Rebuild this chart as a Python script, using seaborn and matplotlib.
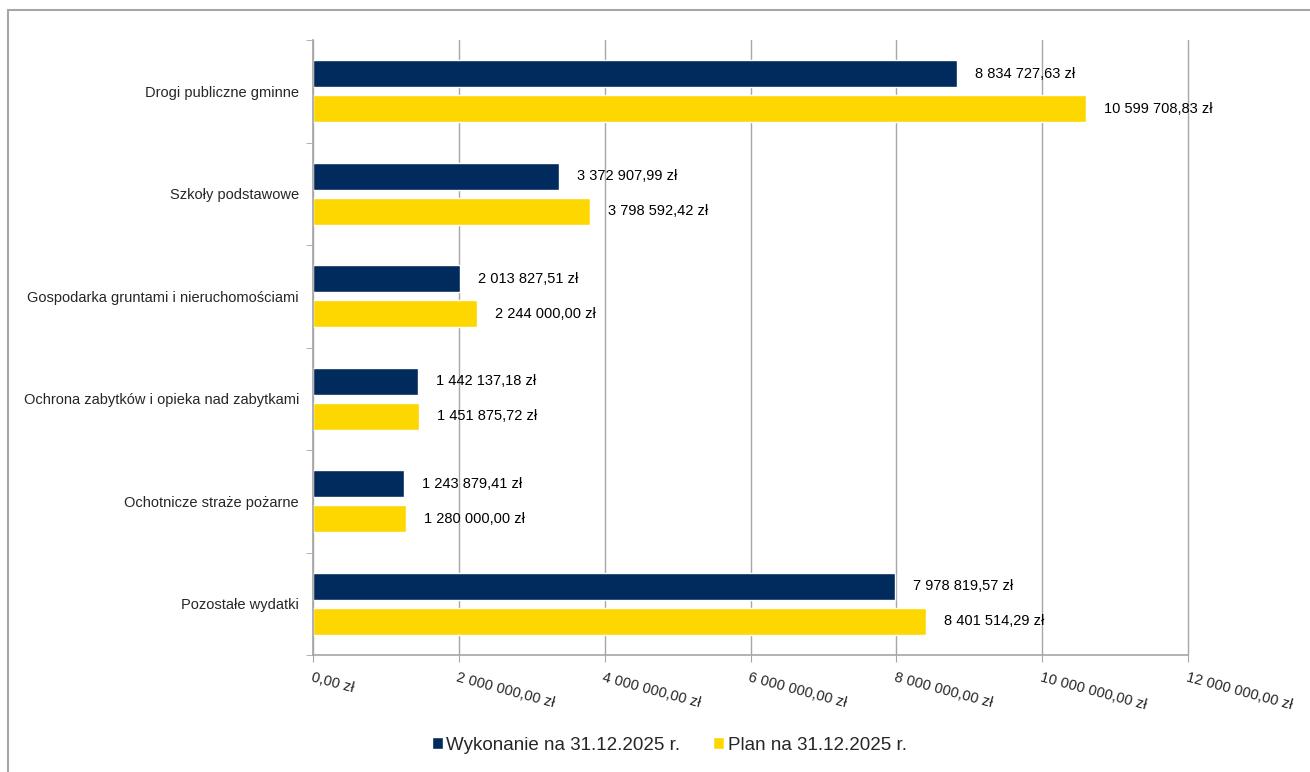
import numpy as np
import pandas as pd
import seaborn as sns
import matplotlib.pyplot as plt
from matplotlib.patches import Rectangle, Patch

kategorie = ["Drogi publiczne gminne", "Szkoły podstawowe",
             "Gospodarka gruntami i nieruchomościami",
             "Ochrona zabytków i opieka nad zabytkami",
             "Ochotnicze straże pożarne", "Pozostałe wydatki"]
wykonanie = [8834727.63, 3372907.99, 2013827.51, 1442137.18, 1243879.41, 7978819.57]
plan = [10599708.83, 3798592.42, 2244000.00, 1451875.72, 1280000.00, 8401514.29]
serie = ["Wykonanie na 31.12.2025 r.", "Plan na 31.12.2025 r."]
kolory = ["#002B5C", "#FFD700"]
x_ticks = [0, 2e6, 4e6, 6e6, 8e6, 10e6, 12e6]


def zl(v):
    s = f"{v:,.2f}".replace(",", " ").replace(".", ",")
    return s + " zł"


df = pd.DataFrame({
    "kategoria": kategorie * 2,
    "wartosc": wykonanie + plan,
    "seria": [serie[0]] * 6 + [serie[1]] * 6,
})

sns.set_style("white")
plt.rcParams["font.family"] = ["Liberation Sans", "DejaVu Sans"]

fig = plt.figure(figsize=(13.1, 7.72), dpi=100)
ax = fig.add_axes([313 / 1310, 1 - 655 / 772, 875 / 1310, 615 / 772])

sns.barplot(data=df, y="kategoria", x="wartosc", hue="seria", palette=kolory,
            orient="h", width=0.68, gap=0.235, legend=False, ax=ax,
            saturation=1, errorbar=None)

# etykiety wartosci
for cont in ax.containers:
    for bar in cont:
        w = bar.get_width()
        ax.annotate(zl(w), (w, bar.get_y() + bar.get_height() / 2),
                    xytext=(13, 0), textcoords="offset points",
                    va="center", ha="left", fontsize=10.5, color="black")

ax.set_xlim(0, 12e6)
ax.set_ylim(5.5, -0.5)
ax.set_xticks(x_ticks)
ax.set_xticklabels([zl(v) for v in x_ticks], rotation=-15, ha="left",
                   rotation_mode="anchor", fontsize=10.5)
ax.tick_params(axis="x", length=5, color="#A6A6A6", pad=6, bottom=True)
ax.set_yticks(range(6))
ax.set_yticklabels(kategorie, fontsize=10.5)
ax.set_yticks(np.arange(-0.5, 6, 1), minor=True)
ax.tick_params(axis="y", which="major", length=0, pad=10)
ax.tick_params(axis="y", which="minor", length=5, color="#A6A6A6", left=True)
ax.set_xlabel("")
ax.set_ylabel("")
ax.grid(axis="x", color="#A6A6A6", linewidth=1)
for gl in ax.get_xgridlines():
    gl.set_clip_on(False)
ax.set_axisbelow(True)
for s in ["top", "right"]:
    ax.spines[s].set_visible(False)
for s in ["left", "bottom"]:
    ax.spines[s].set_color("#A6A6A6")
    ax.spines[s].set_linewidth(1.2)

uchwyty = [Patch(facecolor=c, label=l) for c, l in zip(kolory, serie)]
fig.legend(handles=uchwyty, loc="center", bbox_to_anchor=(669 / 1310, 1 - 745 / 772),
           ncol=2, frameon=False, fontsize=13.5, handlelength=0.6, handleheight=0.6,
           handletextpad=0.2, columnspacing=1.7)

# ramka wykresu
fig.add_artist(Rectangle((8 / 1310, -0.1), 1.2, 1 - 10 / 772 + 0.1,
                         transform=fig.transFigure, fill=False,
                         edgecolor="#A6A6A6", linewidth=1.5))

fig.savefig("out.png", dpi=100)
